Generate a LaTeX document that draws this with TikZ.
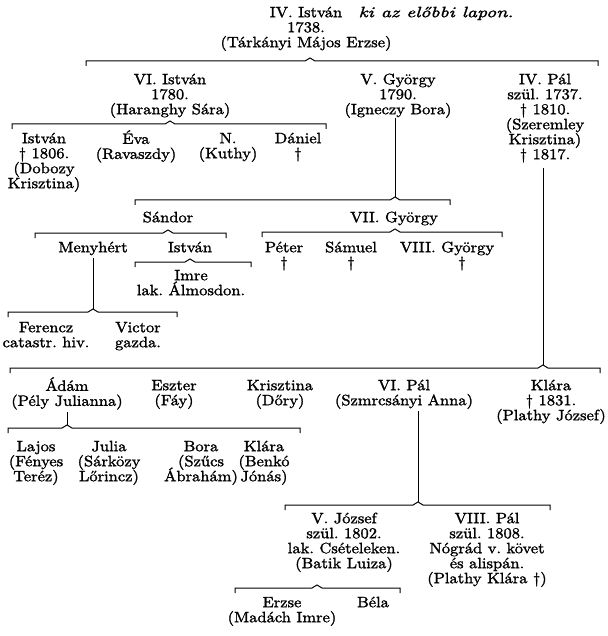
\documentclass[tikz,border=0pt]{standalone}
\usepackage{fontspec}
\usepackage{graphicx}
\setmainfont[FakeStretch=1.1,FakeBold=1.6,ItalicFont=lmroman10-italic.otf]{lmroman10-regular.otf}
\frenchspacing
\newcommand\fs{\rule{0pt}{13pt}}
% family bar: #1 name of caret coordinate, #2 left x, #3 right x, #4 caret x, #5 y
\newcommand\fambar[5]{%
  \draw[bar] (#2,#5+5) -- (#2,#5) -- (#4-5,#5) -- (#4,#5-3) -- (#4+5,#5) -- (#3,#5) -- (#3,#5+5);
  \coordinate (#1) at (#4,#5-3);}
\tikzset{
  person/.style={anchor=north, align=center, inner sep=0pt,
    font={\fontsize{15}{15}\selectfont\frenchspacing\lineskiplimit=-20pt}},
  bar/.style={line width=1pt, line join=miter},
  conn/.style={line width=1pt},
}
\begin{document}
\begin{tikzpicture}[x=1pt,y=-1pt]
\fill[white] (0,0) rectangle (607,636);
\useasboundingbox (0,0) rectangle (607,636);

\node[person] (top) at (306,4) {\fs IV. István\\1738.\\(Tárkányi Májos Erzse)};
\node[person] (note) at (436,4) {\fs\scalebox{1.2}[1]{\itshape ki az előbbi lapon.}};

\fambar{b1}{86}{598}{310}{61}

\node[person] (vist) at (170,71) {\fs VI. István\\1780.\\(Haranghy Sára)};
\node[person] (vgy) at (398,71) {\fs V. György\\1790.\\(Igneczy Bora)};
\node[person] (ivpal) at (545,71) {\fs IV. Pál\\szül. 1737.\\† 1810.\\(Szeremley\\Krisztina)\\† 1817.};

\fambar{b2}{12}{326}{170}{124}
\node[person] (istvan2) at (44,130) {\fs István\\† 1806.\\(Dobozy\\Krisztina)};
\node[person] (eva) at (136,130) {\fs Éva\\(Ravaszdy)};
\node[person] (nk) at (228,130) {\fs N.\\(Kuthy)};
\node[person] (daniel) at (298,130) {\fs Dániel\\†};

\fambar{b3}{135}{450}{395}{200}
\draw[conn] (b3 |- vgy.south) -- (b3);
\node[person] (sandor) at (168,209) {\fs Sándor};
\node[person] (viigy) at (394,209) {\fs VII. György};

\fambar{b4}{35}{226}{168}{233}
\fambar{b5}{262}{502}{395}{232}
\node[person] (menyhert) at (93,239) {\fs Menyhért};
\node[person] (istvan3) at (190,239) {\fs István};
\node[person] (peter) at (284,239) {\fs Péter\\†};
\node[person] (samuel) at (351,239) {\fs Sámuel\\†};
\node[person] (viiigy) at (447,239) {\fs VIII. György\\\hspace*{30pt}†};

\fambar{b6}{135}{251}{190}{262}
\node[person] (imre) at (191,267) {\fs Imre\\lak. Álmosdon.};

\fambar{b7}{8}{177}{93}{312}
\draw[conn] ([yshift=-3pt]b7 |- menyhert.south) -- (b7);
\node[person] (ferencz) at (46,319) {\fs Ferencz\\catastr. hiv.};
\node[person] (victor) at (138,319) {\fs Victor\\gazda.};

\fambar{b8}{10}{600}{543}{368}
\draw[conn] ([yshift=-5pt]b8 |- ivpal.south) -- (b8);
\node[person] (adam) at (67,377) {\fs Ádám\\(Pély Julianna)};
\node[person] (eszter) at (174,377) {\fs Eszter\\(Fáy)};
\node[person] (krisztina) at (280,377) {\fs Krisztina\\(Dőry)};
\node[person] (vipal) at (404,377) {\fs VI. Pál\\(Szmrcsányi Anna)};
\node[person] (klara) at (551,377) {\fs Klára\\† 1831.\\(Plathy József)};

\fambar{b9}{8}{300}{67}{428}
\draw[conn] ([yshift=-2pt]b9 |- adam.south) -- (b9);
\node[person] (lajos) at (36,438) {\fs Lajos\\(Fényes\\Teréz)};
\node[person] (julia) at (109,438) {\fs Julia\\(Sárközy\\Lőrincz)};
\node[person] (bora) at (201,438) {\fs Bora\\(Szűcs\\Ábrahám)};
\node[person] (klara2) at (264,438) {\fs Klára\\(Benkó\\Jónás)};

\fambar{b10}{285}{550}{418}{505}
\draw[conn] ([yshift=-2pt]b10 |- vipal.south) -- (b10);
\node[person] (vjozsef) at (344,510) {\fs V. József\\szül. 1802.\\lak. Csételeken.\\(Batik Luiza)};
\node[person] (viiipal) at (487,510) {\fs VIII. Pál\\szül. 1808.\\Nógrád v. követ\\és alispán.\\(Plathy Klára †)};

\fambar{b11}{235}{400}{317}{588}
\node[person] (erzse) at (282,594) {\fs Erzse\\(Madách Imre)};
\node[person] (bela) at (373,594) {\fs Béla};
\end{tikzpicture}
\end{document}
